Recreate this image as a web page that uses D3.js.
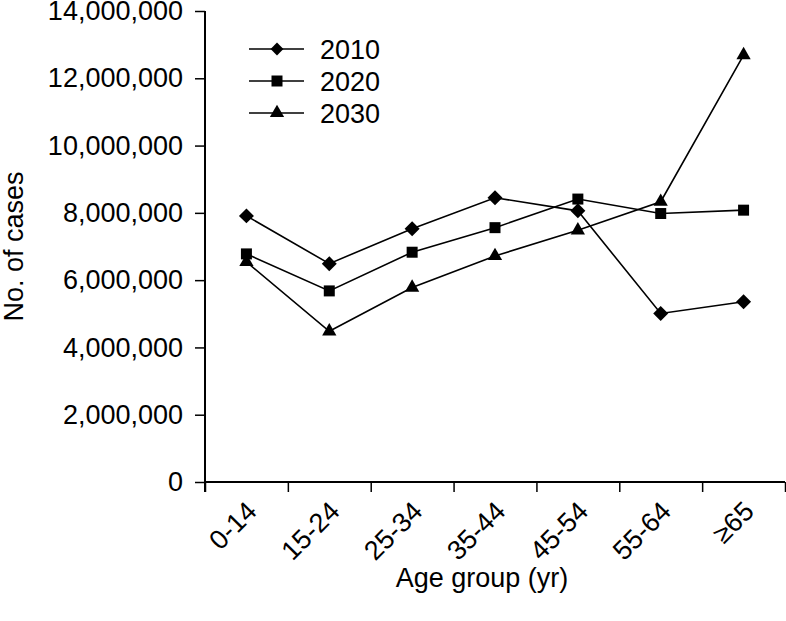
<!DOCTYPE html>
<html>
<head>
<meta charset="utf-8">
<script src="https://cdn.jsdelivr.net/npm/d3@7"></script>
<style>
  body { margin: 0; background: #fff; }
  svg text { font-family: "Liberation Sans", Arial, sans-serif; fill: #000; }
</style>
</head>
<body>
<div id="chart"></div>
<script>
// Дані
const ageGroups = ["0-14", "15-24", "25-34", "35-44", "45-54", "55-64", "\u226565"];
const years = ["2010", "2020", "2030"];
const cases2010 = [7910000, 6490000, 7530000, 8450000, 8060000, 5010000, 5360000];
const cases2020 = [6780000, 5680000, 6830000, 7560000, 8410000, 7980000, 8080000];
const cases2030 = [6540000, 4480000, 5780000, 6720000, 7480000, 8330000, 12690000];
const yTicks = [0, 2000000, 4000000, 6000000, 8000000, 10000000, 12000000, 14000000];

const WIDTH = 786;
const HEIGHT = 621;
const LEFT = 205, RIGHT = 785, TOP = 11, BOTTOM = 482;
const FONT = 27;

const svg = d3.select("#chart").append("svg")
    .attr("width", WIDTH)
    .attr("height", HEIGHT);

const x = d3.scaleBand().domain(ageGroups).range([LEFT, RIGHT]).padding(0);
const xEdge = d3.scaleLinear().domain([0, ageGroups.length]).range([LEFT, RIGHT]);
const y = d3.scaleLinear().domain([0, 14000000]).range([BOTTOM, TOP]);

// Вісь Y
const yAxis = svg.append("g")
    .attr("transform", `translate(${LEFT},0)`)
    .call(d3.axisLeft(y).tickValues(yTicks).tickSize(10).tickPadding(12)
        .tickFormat(d3.format(",")));
yAxis.select(".domain").remove();
yAxis.selectAll("line").attr("stroke", "#000").attr("stroke-width", 1.5);
yAxis.selectAll("text").style("font-size", FONT + "px");
svg.append("line")
    .attr("x1", LEFT).attr("x2", LEFT)
    .attr("y1", TOP).attr("y2", BOTTOM + 10)
    .attr("stroke", "#000").attr("stroke-width", 2);

// Вісь X (поділки на межах груп)
const xAxis = svg.append("g")
    .attr("transform", `translate(0,${BOTTOM})`)
    .call(d3.axisBottom(xEdge).ticks(ageGroups.length).tickSize(10).tickFormat(""));
xAxis.select(".domain").remove();
xAxis.selectAll("line").attr("stroke", "#000").attr("stroke-width", 1.5);
svg.append("line")
    .attr("x1", LEFT).attr("x2", RIGHT)
    .attr("y1", BOTTOM).attr("y2", BOTTOM)
    .attr("stroke", "#000").attr("stroke-width", 2);

// Підписи груп
svg.append("g").selectAll("text")
    .data(ageGroups)
    .join("text")
    .attr("transform", d => `translate(${x(d) + x.bandwidth() / 2 + 12},${BOTTOM + 31}) rotate(-45)`)
    .attr("text-anchor", "end")
    .style("font-size", FONT + "px")
    .text(d => d);

// Назви осей
svg.append("text")
    .attr("x", 482).attr("y", 587)
    .attr("text-anchor", "middle")
    .style("font-size", FONT + "px")
    .text("Age group (yr)");
svg.append("text")
    .attr("transform", `translate(23,${(TOP + BOTTOM) / 2}) rotate(-90)`)
    .attr("text-anchor", "middle")
    .style("font-size", FONT + "px")
    .text("No. of cases");

// Серії
const series = [
    { name: years[0], values: cases2010, shape: d3.symbolDiamond2, size: 143, legendSize: 105 },
    { name: years[1], values: cases2020, shape: d3.symbolSquare, size: 121, legendSize: 121 },
    { name: years[2], values: cases2030, shape: d3.symbolTriangle, size: 88, legendSize: 88 }
];
const line = d3.line()
    .x((d, i) => x(ageGroups[i]) + x.bandwidth() / 2)
    .y(d => y(d));

series.forEach(s => {
    svg.append("path")
        .datum(s.values)
        .attr("fill", "none")
        .attr("stroke", "#000")
        .attr("stroke-width", 1.6)
        .attr("d", line);
    svg.append("g").selectAll("path")
        .data(s.values)
        .join("path")
        .attr("transform", (d, i) => `translate(${x(ageGroups[i]) + x.bandwidth() / 2},${y(d)})`)
        .attr("d", d3.symbol().type(s.shape).size(s.size))
        .attr("fill", "#000");
});

// Легенда
const legend = svg.append("g");
series.forEach((s, k) => {
    const ly = 49 + k * 32;
    legend.append("line")
        .attr("x1", 249).attr("x2", 304)
        .attr("y1", ly).attr("y2", ly)
        .attr("stroke", "#000").attr("stroke-width", 1.6);
    legend.append("path")
        .attr("transform", `translate(277,${ly})`)
        .attr("d", d3.symbol().type(s.shape).size(s.legendSize))
        .attr("fill", "#000");
    legend.append("text")
        .attr("x", 320).attr("y", ly)
        .attr("dy", "0.36em")
        .style("font-size", FONT + "px")
        .text(s.name);
});
</script>
</body>
</html>
